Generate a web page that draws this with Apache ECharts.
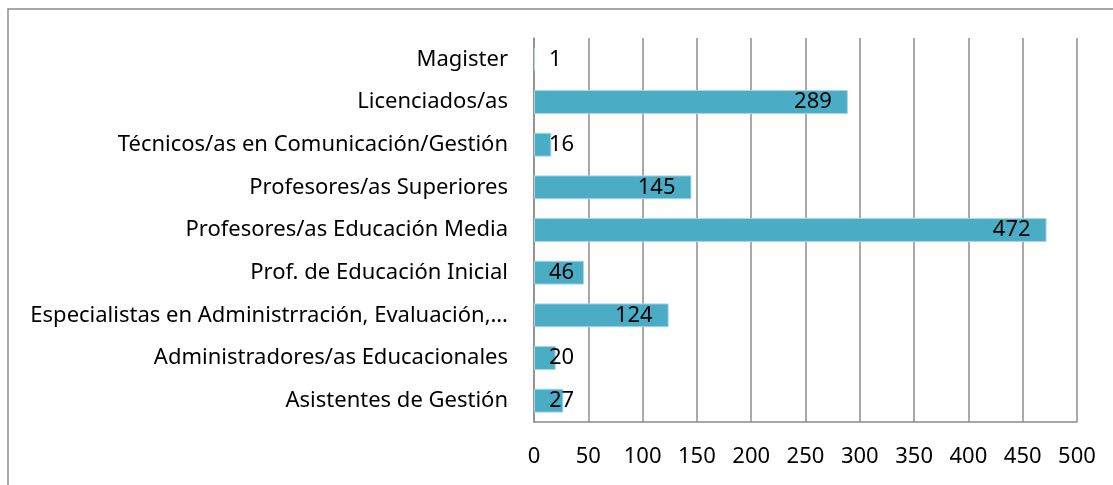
<!DOCTYPE html>
<html>
<head>
<meta charset="utf-8">
<script src="https://cdn.jsdelivr.net/npm/echarts@6/dist/echarts.min.js"></script>
<style>
  html, body { margin: 0; padding: 0; background: #fff; }
  #chart { width: 1113px; height: 485px; }
</style>
</head>
<body>
<div id="chart"></div>
<script>
// categories from bottom to top (category axis runs upward)
var categories = [
  'Asistentes de Gestión',
  'Administradores/as Educacionales',
  'Especialistas en Administrración, Evaluación,…',
  'Prof. de Educación Inicial',
  'Profesores/as Educación Media',
  'Profesores/as Superiores',
  'Técnicos/as en Comunicación/Gestión',
  'Licenciados/as',
  'Magister'
];
var values = [27, 20, 124, 46, 472, 145, 16, 289, 1];
var xTicks = [0, 50, 100, 150, 200, 250, 300, 350, 400, 450, 500];

var font = 'Noto Sans';
var gray = '#8c8c8c';

var barData = values.map(function (v) {
  // short bars: label sits just off the axis instead of inside the end
  var short = v < 60;
  return {
    value: v,
    label: short
      ? { position: 'insideLeft', distance: 15 }
      : { position: 'insideRight', distance: 16 }
  };
});

var chart = echarts.init(document.getElementById('chart'));
chart.setOption({
  animation: false,
  graphic: [{
    type: 'rect',
    shape: { x: 8, y: 9, width: 1300, height: 700 },
    style: { fill: 'none', stroke: gray, lineWidth: 1.5 },
    silent: true
  }],
  grid: { left: 534, right: 36, top: 38, bottom: 63 },
  xAxis: {
    type: 'value',
    min: xTicks[0],
    max: xTicks[xTicks.length - 1],
    interval: 50,
    axisLine: { show: true, lineStyle: { color: gray, width: 1.5 } },
    axisTick: { show: false },
    splitLine: { show: true, lineStyle: { color: gray, width: 1.5 } },
    axisLabel: { color: '#000', fontFamily: font, fontSize: 22, margin: 24 }
  },
  yAxis: {
    type: 'category',
    data: categories,
    axisLine: { show: true, lineStyle: { color: gray, width: 1.5 } },
    axisTick: { show: false },
    axisLabel: { color: '#000', fontFamily: font, fontSize: 22, margin: 26 }
  },
  series: [{
    type: 'bar',
    data: barData,
    barCategoryGap: '44%',
    itemStyle: { color: '#4bacc6', borderColor: '#a8d6e3', borderWidth: 1 },
    label: {
      show: true,
      color: '#000',
      fontFamily: font,
      fontSize: 22
    }
  }]
});
</script>
</body>
</html>
